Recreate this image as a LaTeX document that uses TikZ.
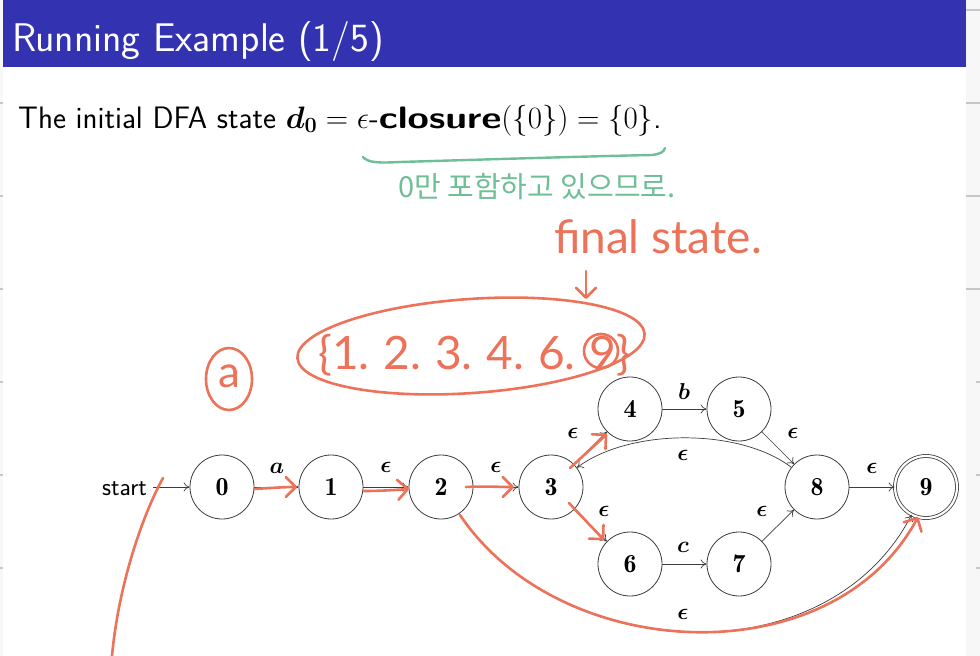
\RequirePackage{fix-cm}
\documentclass[tikz,border=0pt]{standalone}
\usepackage{amsmath,bm}
\usepackage{fontspec}
\newfontfamily\kor{Noto Sans CJK KR}
\newfontfamily\hand{Lato}
\usetikzlibrary{arrows.meta}
\definecolor{beamerblue}{RGB}{51,51,178}
\definecolor{pen}{RGB}{236,114,90}
\definecolor{pengreen}{RGB}{110,190,150}
\definecolor{edgegray}{RGB}{60,60,60}
\begin{document}
\begin{tikzpicture}[x=1pt,y=-1pt,
  state/.style={circle,draw=edgegray,line width=0.8pt,minimum size=64pt,inner sep=0pt,font=\fontsize{26}{30}\selectfont},
  lbl/.style={font=\fontsize{23}{27}\selectfont,inner sep=0pt},
  tr/.style={-{To[length=6pt,width=9pt]},line width=0.7pt,draw=edgegray},
  penline/.style={draw=pen,line width=2.6pt,line cap=round,line join=round},
  penarrow/.style={penline,-{Straight Barb[length=10pt,width=20pt,round]}},
  greenline/.style={draw=pengreen,line width=2.4pt,line cap=round,line join=round},
  tick/.style={draw=black!22,line width=1.2pt}]
\useasboundingbox (0,0) rectangle (980,656);
% slide background
\fill[black!3] (0,0) rectangle (980,656);
\fill[white] (3,0) rectangle (966,656);
\fill[beamerblue] (3,0) rectangle (966,67);
\foreach \yy in {103,196,289}{\draw[tick] (966,\yy) -- (980,\yy);}
\foreach \yy in {382,475,568}{\draw[tick] (976,\yy) -- (980,\yy);}
\draw[tick] (966,10) -- (980,10);
\foreach \yy in {103,196,289,382,475,568}{\draw[tick] (0,\yy) -- (3,\yy);}
% title and text
\node[anchor=base west,text=white,inner sep=0pt,font=\sffamily\fontsize{40}{46}\selectfont] (title) at (12,51) {Running Example (1/5)};
\node[anchor=base west,inner sep=0pt,font=\sffamily\fontsize{31}{36}\selectfont] (intro) at (18,128)
  {The initial DFA state $\bm{d_0} = \epsilon$-\scalebox{1.25}[1]{\textbf{closure}}$(\{0\}) = \{0\}$.};
% NFA states
\node[state] (n0) at (222,487) {$\mathbf{0}$};
\node[state] (n1) at (331,487) {$\mathbf{1}$};
\node[state] (n2) at (441,487) {$\mathbf{2}$};
\node[state] (n3) at (551,487) {$\mathbf{3}$};
\node[state] (n4) at (630,409) {$\mathbf{4}$};
\node[state] (n5) at (739,409) {$\mathbf{5}$};
\node[state] (n6) at (630,564) {$\mathbf{6}$};
\node[state] (n7) at (739,564) {$\mathbf{7}$};
\node[state] (n8) at (817,487) {$\mathbf{8}$};
\node[state,double,double distance=2.2pt,minimum size=62pt] (n9) at (926,487) {$\mathbf{9}$};
\node[anchor=base east,inner sep=0pt,font=\sffamily\fontsize{25}{30}\selectfont] (start) at (147,495) {start};
\coordinate (s0) at (153,487);
% transitions
\draw[tr] (s0) -- (n0);
\draw[tr] (n0) -- (n1);
\draw[tr] (n1) -- (n2);
\draw[tr] (n2) -- (n3);
\draw[tr] (n3) -- (n4);
\draw[tr] (n4) -- (n5);
\draw[tr] (n5) -- (n8);
\draw[tr] (n3) -- (n6);
\draw[tr] (n6) -- (n7);
\draw[tr] (n7) -- (n8);
\draw[tr] (n8) -- (n9);
\draw[tr] (n8) .. controls (740,428) and (630,428) .. (n3);
\draw[tr] (n2) .. controls (561,665) and (827,678) .. (n9);
% labels
\node[lbl] (la) at (277,468) {$\bm{a}$};
\node[lbl] (le12) at (386,467) {$\bm{\epsilon}$};
\node[lbl] (le23) at (496,467) {$\bm{\epsilon}$};
\node[lbl] (le34) at (573,433) {$\bm{\epsilon}$};
\node[lbl] (lb) at (684,392) {$\bm{b}$};
\node[lbl] (le58) at (793,433) {$\bm{\epsilon}$};
\node[lbl] (le83) at (683,455) {$\bm{\epsilon}$};
\node[lbl] (le89) at (872,468) {$\bm{\epsilon}$};
\node[lbl] (le36) at (604,511) {$\bm{\epsilon}$};
\node[lbl] (lc) at (683,547) {$\bm{c}$};
\node[lbl] (le78) at (762,511) {$\bm{\epsilon}$};
\node[lbl] (le29) at (683,614) {$\bm{\epsilon}$};
% green annotations
\draw[greenline] (363,157) .. controls (368,163) and (380,163) .. (400,162)
  .. controls (500,159) and (600,156) .. (652,155) .. controls (660,154) and (664,152) .. (665,148);
\node[anchor=base west,inner sep=0pt,text=pengreen,font=\kor\fontsize{29}{33}\selectfont] (kortext) at (398,197) {0만 포함하고 있으므로.};
% red annotations
\node[inner sep=0pt,text=pen,font=\hand\fontsize{46}{50}\selectfont] (final) at (658,237) {final state.};
\draw[penarrow] (586,271) -- (586,299);
\draw[penline,rotate around={4:(471,346)}] (471,346) ellipse [x radius=174pt,y radius=47pt];
\node[anchor=base west,inner sep=0pt,text=pen,font=\hand\fontsize{46}{50}\selectfont] (set) at (318,369) {\{1.\hspace{14pt}2.\hspace{14pt}3.\hspace{14pt}4.\hspace{14pt}6.\hspace{14pt}9\}};
\draw[penline] (601,351) circle (17pt);
\draw[penline] (229,379) ellipse [x radius=23pt,y radius=31pt];
\node[inner sep=0pt,text=pen,font=\hand\fontsize{44}{48}\selectfont] (ha) at (229,376) {a};
\draw[penline] (163,478) .. controls (140,520) and (118,590) .. (112,656);
\draw[penarrow] (254,489) .. controls (270,488) and (285,487) .. (297,487);
\draw[penarrow] (364,491) .. controls (380,491) and (395,490) .. (409,489);
\draw[penarrow] (466,487) .. controls (482,486) and (498,487) .. (514,487);
\draw[penarrow] (570,468) -- (607,434);
\draw[penarrow] (569,503) -- (604,540);
\draw[penarrow] (460,515) .. controls (560,664) and (832,677) .. (918,517);
\end{tikzpicture}
\end{document}
